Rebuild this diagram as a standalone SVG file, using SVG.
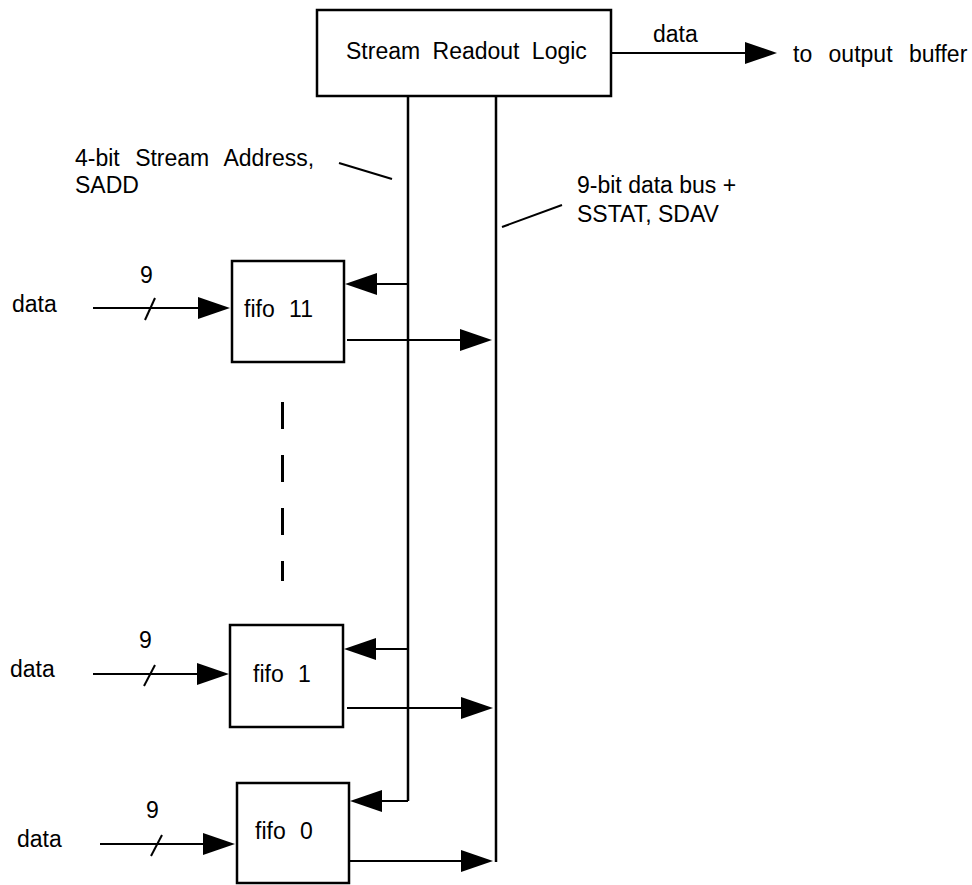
<svg xmlns="http://www.w3.org/2000/svg" width="972" height="885" viewBox="0 0 972 885">
<style>
text{font-family:"Liberation Sans",Arial,Helvetica,sans-serif;font-size:23px;fill:#000}
.box{fill:#fff;stroke:#000;stroke-width:2.5}
.ln{fill:none;stroke:#000;stroke-width:2}
.bus{fill:none;stroke:#000;stroke-width:2.5}
.ar{fill:none;stroke:#000;stroke-width:2;marker-end:url(#ah)}
.ws{word-spacing:8px}
</style>
<defs>
<marker id="ah" markerUnits="userSpaceOnUse" markerWidth="34" markerHeight="24" refX="29" refY="11" orient="auto">
<path d="M0,0 L32,11 L0,22 Z" fill="#000"/>
</marker>
</defs>
<rect width="972" height="885" fill="#fff"/>
<g id="connectors">
<line class="bus" x1="408" y1="96" x2="408" y2="801"/>
<line class="bus" x1="496" y1="96" x2="496" y2="862"/>
<line class="ar" x1="611" y1="53" x2="774" y2="53"/>
<line class="ar" x1="408" y1="284" x2="348" y2="284"/>
<line class="ar" x1="347" y1="340" x2="489" y2="340"/>
<line class="ar" x1="408" y1="649" x2="347" y2="649"/>
<line class="ar" x1="347" y1="708" x2="490" y2="708"/>
<line class="ar" x1="408" y1="801" x2="353" y2="801"/>
<line class="ar" x1="349" y1="861" x2="490" y2="861"/>
<line class="ar" x1="93" y1="308" x2="227" y2="308"/>
<line class="ln" x1="145" y1="320" x2="155" y2="298"/>
<line class="ar" x1="93" y1="674" x2="226" y2="674"/>
<line class="ln" x1="144" y1="686" x2="155" y2="665"/>
<line class="ar" x1="100" y1="844" x2="232" y2="844"/>
<line class="ln" x1="151" y1="856" x2="162" y2="835"/>
<line class="ln" x1="339" y1="163" x2="392" y2="179"/>
<line class="ln" x1="502" y1="227" x2="562" y2="205"/>
<line x1="282.5" y1="402" x2="282.5" y2="581" stroke="#000" stroke-width="3" stroke-dasharray="27 26"/>
</g>
<g id="readout">
<rect class="box" x="317" y="10" width="294" height="86"/>
<text x="346" y="59" style="word-spacing:6px">Stream Readout Logic</text>
</g>
<g id="labels">
<text x="653" y="42">data</text>
<text x="793" y="62" style="word-spacing:10px">to output buffer</text>
<text x="75" y="166" style="word-spacing:9px">4-bit Stream Address,</text>
<text x="75" y="193">SADD</text>
<text x="577" y="193">9-bit data bus +</text>
<text x="577" y="222">SSTAT, SDAV</text>
</g>
<g id="fifo11">
<rect class="box" x="232" y="261" width="112" height="101"/>
<text x="244" y="317" class="ws">fifo 11</text>
<text x="12" y="312">data</text>
<text x="140" y="283">9</text>
</g>
<g id="fifo1">
<rect class="box" x="230" y="625" width="113" height="102"/>
<text x="253" y="682" class="ws">fifo 1</text>
<text x="10" y="677">data</text>
<text x="139" y="648">9</text>
</g>
<g id="fifo0">
<rect class="box" x="237" y="783" width="112" height="100"/>
<text x="255" y="839" class="ws">fifo 0</text>
<text x="17" y="847">data</text>
<text x="146" y="818">9</text>
</g>
</svg>
